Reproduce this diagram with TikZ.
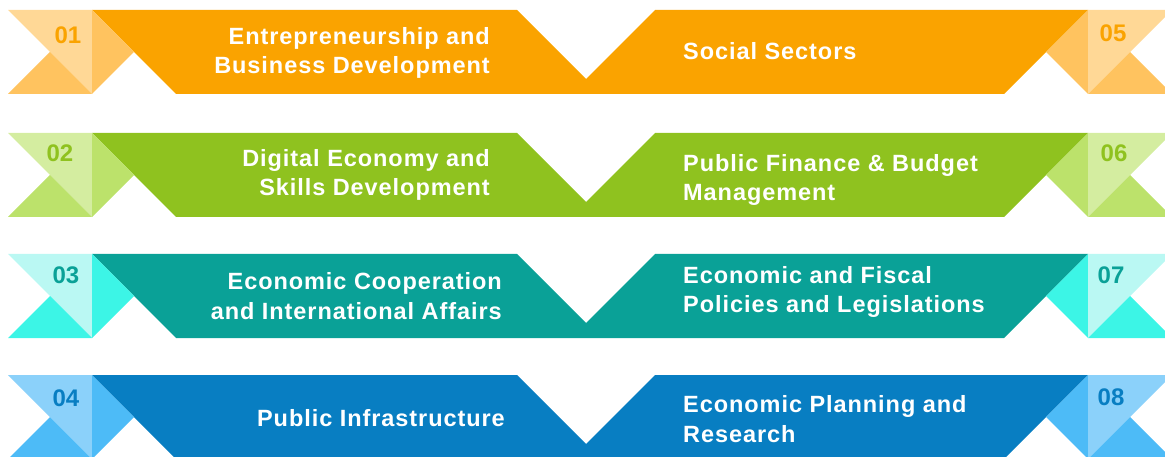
\documentclass[tikz,border=0pt]{standalone}
\usepackage{fontspec}
\setmainfont{Liberation Sans}
\newfontfamily\lblfont[LetterSpace=4]{Liberation Sans}
\usepackage{tikz}
\definecolor{orangeMain}{HTML}{FAA300}
\definecolor{orangeLight}{HTML}{FFD896}
\definecolor{orangeMid}{HTML}{FFC35F}
\definecolor{greenMain}{HTML}{8FC21F}
\definecolor{greenLight}{HTML}{D4EDA0}
\definecolor{greenMid}{HTML}{BCE26B}
\definecolor{tealMain}{HTML}{0AA197}
\definecolor{tealLight}{HTML}{BAF8F3}
\definecolor{tealMid}{HTML}{3CF5E6}
\definecolor{blueMain}{HTML}{087EC2}
\definecolor{blueLight}{HTML}{8BD1FA}
\definecolor{blueMid}{HTML}{4DBBF7}
\begin{document}
\begin{tikzpicture}[x=1pt,y=-1pt,
  lbl/.style={text=white,font=\lblfont\bfseries\fontsize{23.5}{29.5}\selectfont,inner sep=0pt},
  num/.style={font=\bfseries\fontsize{24}{24}\selectfont,inner sep=0pt}]
  \useasboundingbox (0,0) rectangle (1165,457);
  \foreach \y/\c in {10/orange,133/green,254/teal,375/blue} {
    \fill[\c Main] (92,\y) -- (517,\y) -- (586,\y+69) -- (655,\y) -- (1088,\y) -- (1046,\y+42) -- (1004,\y+84) -- (176,\y+84) -- (134,\y+42) -- cycle;
    \fill[\c Light] (8,\y) -- (92,\y) -- (92,\y+84) -- cycle;
    \fill[\c Mid] (8,\y+84) -- (50,\y+42) -- (92,\y+84) -- cycle;
    \fill[\c Mid] (92,\y) -- (134,\y+42) -- (92,\y+84) -- cycle;
    \fill[\c Mid] (1088,\y) -- (1046,\y+42) -- (1088,\y+84) -- cycle;
    \fill[\c Light] (1088,\y) -- (1172,\y) -- (1088,\y+84) -- cycle;
    \fill[\c Mid] (1088,\y+84) -- (1130,\y+42) -- (1172,\y+84) -- cycle;
  }
  % numbers
  \node[num,text=orangeMain] (n1) at (68,35) {01};
  \node[num,text=greenMain] (n2) at (60,153) {02};
  \node[num,text=tealMain] (n3) at (66,275) {03};
  \node[num,text=blueMain] (n4) at (66,398) {04};
  \node[num,text=orangeMain] (n5) at (1113,33) {05};
  \node[num,text=greenMain] (n6) at (1114,153) {06};
  \node[num,text=tealMain] (n7) at (1111,275) {07};
  \node[num,text=blueMain] (n8) at (1111,397) {08};
  % labels
  \node[lbl,anchor=east,align=right] (l1) at (490,53) {Entrepreneurship and\\Business Development};
  \node[lbl,anchor=east,align=right] (l2) at (490,175) {Digital Economy and\\Skills Development};
  \node[lbl,anchor=east,align=right] (l3) at (502,296) {Economic Cooperation\\and International Affairs};
  \node[lbl,anchor=east,align=right] (l4) at (505,418) {Public Infrastructure};
  \node[lbl,anchor=west,align=left] (r1) at (683,51) {Social Sectors};
  \node[lbl,anchor=west,align=left] (r2) at (683,180) {Public Finance \& Budget\\Management};
  \node[lbl,anchor=west,align=left] (r3) at (683,292) {Economic and Fiscal\\Policies and Legislations};
  \node[lbl,anchor=west,align=left] (r4) at (683,419) {Economic Planning and\\Research};
\end{tikzpicture}
\end{document}
